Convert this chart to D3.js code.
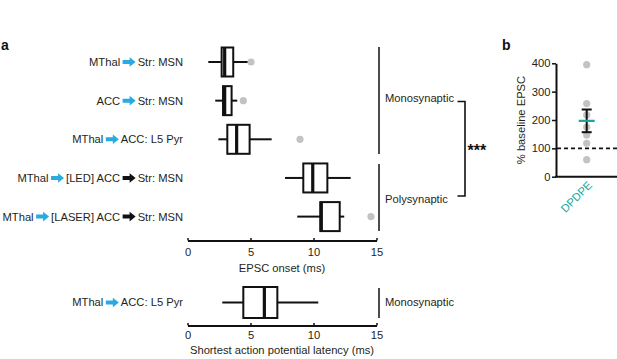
<!DOCTYPE html>
<html><head><meta charset="utf-8">
<script src="https://cdn.jsdelivr.net/npm/d3@7"></script>
<style>
body{margin:0;background:#fff;}
svg{display:block;font-family:"Liberation Sans",Arial,sans-serif;}
</style></head>
<body><svg id="c" width="617" height="359"></svg>
<script>
// ---------- data ----------
const rowLabels = [
  [["t","MThal"],["a","blue"],["t","Str: MSN"]],
  [["t","ACC"],["a","blue"],["t","Str: MSN"]],
  [["t","MThal"],["a","blue"],["t","ACC: L5 Pyr"]],
  [["t","MThal"],["a","blue"],["t","[LED] ACC"],["a","black"],["t","Str: MSN"]],
  [["t","MThal"],["a","blue"],["t","[LASER] ACC"],["a","black"],["t","Str: MSN"]]
];
const categories = ["MThal-Str","ACC-Str","MThal-ACC","LED","LASER"];
const whiskerLow  = [1.65, 2.2, 2.45, 7.74, 8.71];
const q1          = [2.71, 2.82, 3.16, 9.19, 10.54];
const median      = [2.95, 2.95, 3.9, 9.94, 10.62];
const q3          = [3.63, 3.5, 4.93, 11.1, 12.08];
const whiskerHigh = [4.83, 3.95, 6.68, 12.95, 12.44];
const outliers    = [[5.04],[4.43],[8.93],[],[14.56]];
const xTicks = [0,5,10,15];

const apLabel = [["t","MThal"],["a","blue"],["t","ACC: L5 Pyr"]];
const apBox = {lo:2.76, q1:4.43, med:6.1, q3:7.13, hi:10.38};

const bPoints = [395, 258, 218, 175, 147, 118, 60];
const bMean = 197, bSem = 40;
const bTicks = [0,100,200,300,400];
const bCategory = "DPDPE";

// ---------- drawing ----------
const svg = d3.select("#c");
const ink = "#231f20", blue = "#29abe2", teal = "#1aa59a", grey = "#c3c3c3";
const x = d3.scaleLinear().domain([0,15]).range([187.5,376.5]);
const y = d3.scalePoint().domain(categories).range([62,216.6]);
const boxH = 29;
const fs = 11.2;

function arrow(g, cx, cy, color){
  const p = d3.path();
  p.moveTo(cx, cy-2); p.lineTo(cx+7, cy-2); p.lineTo(cx+7, cy-4.8);
  p.lineTo(cx+13, cy); p.lineTo(cx+7, cy+4.8); p.lineTo(cx+7, cy+2);
  p.lineTo(cx, cy+2); p.closePath();
  g.append("path").attr("d", p.toString()).attr("fill", color);
}
function label(pieces, right, cy){
  const g = svg.append("g");
  let cur = right;
  for(let i=pieces.length-1;i>=0;i--){
    const [k,v] = pieces[i];
    if(k==="t"){
      const t = g.append("text").attr("x",cur).attr("y",cy).attr("dy","0.35em")
        .attr("text-anchor","end").attr("font-size",fs).attr("fill",ink).text(v);
      cur -= t.node().getComputedTextLength();
      cur -= 3.5;
    } else {
      cur += 1.5;
      arrow(g, cur-13, cy, v==="blue"?blue:"#111");
      cur -= 13 + 2.5;
    }
  }
}
function box(cy, lo, a, m, b, hi, h){
  const g = svg.append("g").attr("stroke", "#111").attr("fill","none");
  g.append("line").attr("x1",x(lo)).attr("x2",x(a)).attr("y1",cy).attr("y2",cy).attr("stroke-width",2);
  g.append("line").attr("x1",x(b)).attr("x2",x(hi)).attr("y1",cy).attr("y2",cy).attr("stroke-width",2);
  g.append("rect").attr("x",x(a)).attr("y",cy-h/2).attr("width",x(b)-x(a)).attr("height",h)
    .attr("fill","#fff").attr("stroke-width",2);
  g.append("line").attr("x1",x(m)).attr("x2",x(m)).attr("y1",cy-h/2).attr("y2",cy+h/2).attr("stroke-width",3.2);
}

categories.forEach((c,i)=>{
  const cy = y(c);
  label(rowLabels[i], 183, cy);
  box(cy, whiskerLow[i], q1[i], median[i], q3[i], whiskerHigh[i], boxH);
  outliers[i].forEach(o=>svg.append("circle").attr("cx",x(o)).attr("cy",cy).attr("r",3.6).attr("fill",grey));
});

function axisAt(yy, labelDy){
  const g = svg.append("g").attr("transform",`translate(0,${yy})`)
    .call(d3.axisBottom(x).tickValues(xTicks).tickSize(-2.5).tickPadding(0).tickSizeOuter(0));
  g.select(".domain").attr("stroke","#111").attr("stroke-width",2);
  g.selectAll(".tick line").attr("stroke","#111").attr("stroke-width",1.5);
  g.selectAll(".tick text").attr("font-size",fs).attr("fill",ink)
    .attr("font-family","Liberation Sans, Arial, sans-serif").attr("y",labelDy).attr("dy",0);
  return g;
}
axisAt(240.5, 15.2);
svg.append("text").attr("x",x(7.5)).attr("y",272).attr("text-anchor","middle")
  .attr("font-size",fs).attr("fill",ink).text("EPSC onset (ms)");

// brackets
svg.append("line").attr("x1",379).attr("x2",379).attr("y1",47).attr("y2",154).attr("stroke","#111").attr("stroke-width",1.5);
svg.append("line").attr("x1",379).attr("x2",379).attr("y1",164).attr("y2",231).attr("stroke","#111").attr("stroke-width",1.5);
svg.append("text").attr("x",385).attr("y",98.5).attr("dy","0.35em").attr("font-size",fs).attr("fill",ink).text("Monosynaptic");
svg.append("text").attr("x",385).attr("y",199).attr("dy","0.35em").attr("font-size",fs).attr("fill",ink).text("Polysynaptic");
svg.append("path").attr("d","M457.5,101.5H465V196H457.5").attr("fill","none").attr("stroke","#111").attr("stroke-width",1.6);
svg.append("text").attr("x",467.5).attr("y",156).attr("font-size",16).attr("font-weight","bold").attr("fill","#111").text("***");

// bottom panel
const cyAP = 302.5;
label(apLabel, 183, cyAP);
box(cyAP, apBox.lo, apBox.q1, apBox.med, apBox.q3, apBox.hi, 31);
axisAt(325.5, 13);
svg.append("text").attr("x",x(7.5)).attr("y",354).attr("text-anchor","middle")
  .attr("font-size",fs).attr("fill",ink).text("Shortest action potential latency (ms)");
svg.append("line").attr("x1",379).attr("x2",379).attr("y1",288).attr("y2",318).attr("stroke","#111").attr("stroke-width",1.5);
svg.append("text").attr("x",385).attr("y",302).attr("dy","0.35em").attr("font-size",fs).attr("fill",ink).text("Monosynaptic");

// panel labels
svg.append("text").attr("x",1).attr("y",50).attr("font-size",14).attr("font-weight","bold").attr("fill","#111").text("a");
svg.append("text").attr("x",502).attr("y",50).attr("font-size",14).attr("font-weight","bold").attr("fill","#111").text("b");

// panel b
const yb = d3.scaleLinear().domain([0,400]).range([176.7,63.3]);
const xb = d3.scalePoint().domain([bCategory]).range([586.7,586.7]);
const ga = svg.append("g").attr("transform","translate(556,0)")
  .call(d3.axisLeft(yb).tickValues(bTicks).tickSize(4).tickPadding(1.5).tickSizeOuter(0));
ga.select(".domain").attr("stroke","#111").attr("stroke-width",2);
ga.selectAll(".tick line").attr("stroke","#111").attr("stroke-width",1.5);
ga.selectAll(".tick text").attr("font-size",fs).attr("fill",ink).attr("font-family","Liberation Sans, Arial, sans-serif");
svg.append("line").attr("x1",555).attr("x2",617).attr("y1",yb(0)).attr("y2",yb(0)).attr("stroke","#111").attr("stroke-width",2);
svg.append("line").attr("x1",557).attr("x2",617).attr("y1",yb(100)).attr("y2",yb(100))
  .attr("stroke","#111").attr("stroke-width",1.6).attr("stroke-dasharray","4,3");
svg.append("text").attr("transform",`translate(525,${(yb(0)+yb(400))/2}) rotate(-90)`)
  .attr("text-anchor","middle").attr("font-size",fs).attr("fill",ink).text("% baseline EPSC");
const px = xb(bCategory);
bPoints.forEach(v=>svg.append("circle").attr("cx",px).attr("cy",yb(v)).attr("r",3.6).attr("fill",grey));
const eg = svg.append("g").attr("stroke","#111").attr("stroke-width",2);
eg.append("line").attr("x1",px).attr("x2",px).attr("y1",yb(bMean+bSem)).attr("y2",yb(bMean-bSem));
eg.append("line").attr("x1",px-5).attr("x2",px+5).attr("y1",yb(bMean+bSem)).attr("y2",yb(bMean+bSem));
eg.append("line").attr("x1",px-5).attr("x2",px+5).attr("y1",yb(bMean-bSem)).attr("y2",yb(bMean-bSem));
svg.append("line").attr("x1",px-8).attr("x2",px+8).attr("y1",yb(bMean)).attr("y2",yb(bMean)).attr("stroke",teal).attr("stroke-width",2.2);
svg.append("text").attr("transform",`translate(${px+6},186) rotate(-45)`).attr("text-anchor","end")
  .attr("font-size",fs).attr("fill",teal).text(bCategory);
</script></body></html>
